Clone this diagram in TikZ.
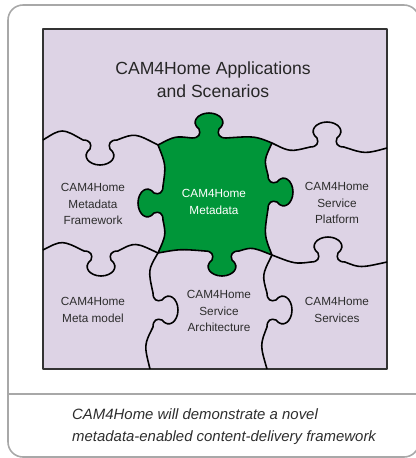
\documentclass[tikz,border=0pt]{standalone}
\usepackage{fontspec}
\setmainfont{Liberation Sans}
\definecolor{lilac}{RGB}{221,211,229}
\definecolor{puzzlegreen}{RGB}{0,150,57}
\definecolor{framegray}{RGB}{168,168,168}
\definecolor{labelgray}{RGB}{45,45,45}
\tikzset{
	% knob on a horizontal edge: centre x, edge y, direction of travel, side
	hknob/.style n args={4}{insert path={
		.. controls ({#1-(#3)*10},{#2}) and ({#1-(#3)*8},{#2+(#4)*4}) .. ({#1-(#3)*10},{#2+(#4)*9})
		.. controls ({#1-(#3)*19},{#2+(#4)*16}) and ({#1-(#3)*11},{#2+(#4)*25}) .. ({#1},{#2+(#4)*25})
		.. controls ({#1+(#3)*11},{#2+(#4)*25}) and ({#1+(#3)*19},{#2+(#4)*16}) .. ({#1+(#3)*10},{#2+(#4)*9})
		.. controls ({#1+(#3)*8},{#2+(#4)*4}) and ({#1+(#3)*10},{#2}) .. ({#1+(#3)*17},{#2})}},
	% knob on a vertical edge: edge x, centre y, direction of travel, side
	vknob/.style n args={4}{insert path={
		.. controls ({#1},{#2-(#3)*10}) and ({#1+(#4)*4},{#2-(#3)*8}) .. ({#1+(#4)*9},{#2-(#3)*10})
		.. controls ({#1+(#4)*16},{#2-(#3)*19}) and ({#1+(#4)*25},{#2-(#3)*11}) .. ({#1+(#4)*25},{#2})
		.. controls ({#1+(#4)*25},{#2+(#3)*11}) and ({#1+(#4)*16},{#2+(#3)*19}) .. ({#1+(#4)*9},{#2+(#3)*10})
		.. controls ({#1+(#4)*4},{#2+(#3)*8}) and ({#1},{#2+(#3)*10}) .. ({#1},{#2+(#3)*17})}},
	piecelabel/.style={align=center, text=labelgray, font=\fontsize{6.7}{9.6}\selectfont}
}
\begin{document}
\begin{tikzpicture}[x=0.02cm, y=-0.02cm, line join=round]
	\useasboundingbox (0,0) rectangle (416,458);
	\draw[framegray, line width=0.9pt, rounded corners=0.3cm] (8,5) rectangle (419,457);
	\draw[framegray, line width=0.9pt] (8,394) -- (419,394);
	\draw[fill=lilac, draw=black!80, line width=0.9pt] (43,29) rectangle (387,369);

	% the centre piece
	\draw[fill=puzzlegreen, line width=0.9pt] (158,145) .. controls (175,136) .. (192,138) [hknob={209}{138}{1}{-1}]
		.. controls (255,136) .. (272,143) .. controls (264,160) .. (268,175) [vknob={268}{192}{1}{1}]
		.. controls (264,235) .. (272,255) .. controls (252,247) .. (239,251) [hknob={222}{251}{-1}{1}]
		.. controls (180,249) .. (158,253) .. controls (166,235) .. (163,220) [vknob={163}{203}{-1}{-1}]
		.. controls (166,165) .. (158,145) -- cycle;

	% seams between the other pieces
	\draw[line width=0.9pt] (43,140) .. controls (62,128) .. (83,140) [hknob={100}{140}{1}{1}] .. controls (135,133) .. (158,145);
	\draw[line width=0.9pt] (272,143) .. controls (290,152) .. (310,147) [hknob={327}{147}{1}{-1}] .. controls (365,154) .. (387,148);
	\draw[line width=0.9pt] (43,250) .. controls (62,240) .. (84,251) [hknob={101}{251}{1}{1}] .. controls (135,242) .. (158,253);
	\draw[line width=0.9pt] (272,255) .. controls (295,264) .. (311,262) [hknob={328}{262}{1}{-1}] .. controls (360,268) .. (387,262);
	\draw[line width=0.9pt] (158,253) .. controls (148,270) .. (153,293) [vknob={153}{310}{1}{1}] .. controls (144,345) .. (150,369);
	\draw[line width=0.9pt] (272,255) .. controls (262,275) .. (267,293) [vknob={267}{310}{1}{1}] .. controls (260,345) .. (267,369);

	\node[align=center, text=black!85, font=\fontsize{10}{13}\selectfont] (apps) at (213,80) {CAM4Home Applications\\and Scenarios};
	\node[piecelabel] (framework) at (93,204) {CAM4Home\\Metadata\\Framework};
	\node[piecelabel, text=white] (metadata) at (214,202) {CAM4Home\\Metadata};
	\node[piecelabel] (platform) at (337,203) {CAM4Home\\Service\\Platform};
	\node[piecelabel] (metamodel) at (93,310) {CAM4Home\\Meta model};
	\node[piecelabel] (architecture) at (219,311) {CAM4Home\\Service\\Architecture};
	\node[piecelabel] (services) at (337,310) {CAM4Home\\Services};
	\node[anchor=west, align=left, text=labelgray, font=\fontsize{8.5}{12.5}\selectfont\itshape] (caption) at (66,427) {CAM4Home will demonstrate a novel\\metadata-enabled content-delivery framework};
\end{tikzpicture}
\end{document}
